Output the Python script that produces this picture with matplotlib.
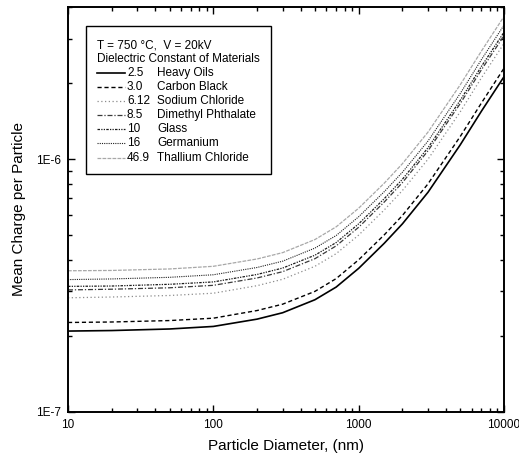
import numpy as np
import matplotlib
matplotlib.use('Agg')
import matplotlib.pyplot as plt
from matplotlib.ticker import LogLocator, FixedLocator, NullFormatter, FixedFormatter

plt.rcParams['font.family'] = ['Liberation Sans', 'DejaVu Sans']

# particle diameter (nm)
diameter = [10, 20, 50, 100, 200, 300, 500, 700, 1000, 1500, 2000, 3000, 5000, 7000, 10000]

# mean charge per particle, in units of 1E-7
heavy_oils = [2.09, 2.10, 2.13, 2.18, 2.33, 2.47, 2.78, 3.12, 3.70, 4.65, 5.55, 7.40, 11.4, 15.5, 21.2]
carbon_black = [2.26, 2.27, 2.30, 2.35, 2.52, 2.67, 3.00, 3.37, 4.00, 5.02, 5.99, 7.99, 12.3, 16.7, 22.9]
sodium_chloride = [2.83, 2.85, 2.89, 2.95, 3.16, 3.35, 3.77, 4.23, 5.01, 6.30, 7.52, 10.0, 15.4, 21.0, 28.7]
dimethyl_phthalate = [3.04, 3.06, 3.10, 3.17, 3.39, 3.59, 4.04, 4.54, 5.38, 6.77, 8.08, 10.8, 16.6, 22.6, 30.8]
glass = [3.14, 3.15, 3.20, 3.27, 3.50, 3.71, 4.17, 4.68, 5.55, 6.98, 8.33, 11.1, 17.1, 23.3, 31.8]
germanium = [3.34, 3.36, 3.41, 3.49, 3.73, 3.95, 4.45, 4.99, 5.92, 7.44, 8.88, 11.8, 18.2, 24.8, 33.9]
thallium_chloride = [3.62, 3.63, 3.68, 3.77, 4.03, 4.27, 4.81, 5.40, 6.40, 8.04, 9.60, 12.8, 19.7, 26.8, 36.7]

eps_labels = ['2.5', '3.0', '6.12', '8.5', '10', '16', '46.9']
names = ['Heavy Oils', 'Carbon Black', 'Sodium Chloride', 'Dimethyl Phthalate',
         'Glass', 'Germanium', 'Thallium Chloride']
series = [heavy_oils, carbon_black, sodium_chloride, dimethyl_phthalate,
          glass, germanium, thallium_chloride]

styles = [
    dict(color='black', lw=1.2, ls='-'),
    dict(color='black', lw=1.0, ls=(0, (3, 2))),
    dict(color='#8c8c8c', lw=0.9, ls=(0, (1, 2))),
    dict(color='#3a3a3a', lw=0.9, ls=(0, (4, 1.5, 1, 1.5))),
    dict(color='#1a1a1a', lw=0.9, ls=(0, (2, 1, 1, 1, 1, 1))),
    dict(color='#222222', lw=0.8, ls=(0, (1, 1))),
    dict(color='#a8a8a8', lw=0.9, ls=(0, (3, 1))),
]

fig = plt.figure(figsize=(5.19, 4.55), dpi=100)
ax = fig.add_axes([68 / 519, 1 - 412 / 455, 436 / 519, 405 / 455])

d = np.array(diameter)
for vals, st in zip(series, styles):
    ax.plot(d, np.array(vals) * 1e-7, **st)

ax.set_xscale('log')
ax.set_yscale('log')
ax.set_xlim(10, 10000)
ax.set_ylim(1e-7, 4e-6)

ax.xaxis.set_major_locator(FixedLocator([10, 100, 1000, 10000]))
ax.xaxis.set_major_formatter(FixedFormatter(['10', '100', '1000', '10000']))
ax.xaxis.set_minor_locator(LogLocator(base=10, subs=np.arange(2, 10)))
ax.xaxis.set_minor_formatter(NullFormatter())
ax.yaxis.set_major_locator(FixedLocator([1e-7, 1e-6]))
ax.yaxis.set_major_formatter(FixedFormatter(['1E-7', '1E-6']))
ax.yaxis.set_minor_locator(LogLocator(base=10, subs=np.arange(2, 10)))
ax.yaxis.set_minor_formatter(NullFormatter())

ax.tick_params(which='both', direction='in', top=True, right=True, labelsize=8.5, width=1.0, pad=5)
ax.tick_params(which='major', length=5)
ax.tick_params(which='minor', length=3)
for s in ax.spines.values():
    s.set_linewidth(1.4)

ax.set_xlabel('Particle Diameter, (nm)', fontsize=11, labelpad=6)
ax.set_ylabel('Mean Charge per Particle', fontsize=11, labelpad=7)

# legend box drawn by hand so numbers and names line up in columns
T = ax.transAxes
ax.add_patch(plt.Rectangle((0.0413, 0.5877), 0.4243, 0.3653, transform=T,
                           fill=True, facecolor='white', edgecolor='black', lw=1.0, zorder=5))
ax.text(0.0665, 0.906, 'T = 750 \u00b0C,  V = 20kV', transform=T, fontsize=8.5, va='center', zorder=6)
ax.text(0.0665, 0.872, 'Dielectric Constant of Materials', transform=T, fontsize=8.5, va='center', zorder=6)
row_y = [0.837, 0.802, 0.768, 0.733, 0.699, 0.663, 0.628]
for yy, lab, nm, st in zip(row_y, eps_labels, names, styles):
    ax.plot([0.0665, 0.1307], [yy, yy], transform=T, zorder=6, **st)
    ax.text(0.1353, yy, lab, transform=T, fontsize=8.5, va='center', zorder=6)
    ax.text(0.204, yy, nm, transform=T, fontsize=8.5, va='center', zorder=6)

fig.savefig('out.png', dpi=100)
